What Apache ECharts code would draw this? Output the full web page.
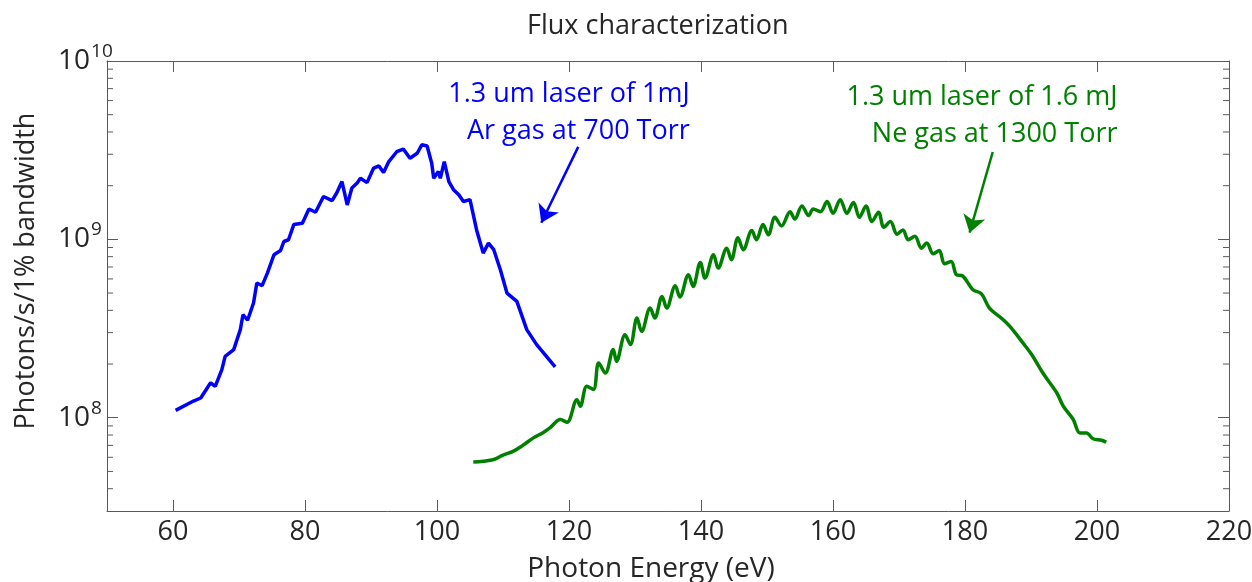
<!DOCTYPE html>
<html><head><meta charset="utf-8">
<script src="https://cdn.jsdelivr.net/npm/echarts@6/dist/echarts.min.js"></script>
<style>html,body{margin:0;padding:0;background:#fff}#c{width:1252px;height:582px}</style>
</head><body><div id="c"></div>
<script>
// ---- data ----
const xMin = 50, xMax = 220;
const yMin = 3e7, yMax = 1e10;
const yMinorTicks = [4e7,5e7,6e7,7e7,8e7,9e7,2e8,3e8,4e8,5e8,6e8,7e8,8e8,9e8,2e9,3e9,4e9,5e9,6e9,7e9,8e9,9e9];

const blueX = [60.4,63.1,64.2,65.7,66.4,67.4,67.9,69.2,70.2,70.6,71.3,72.2,72.7,73.5,74.3,75.3,76.3,76.8,77.5,78.3,79.6,80.6,81.6,82.8,84.1,84.8,85.6,86.4,87.1,87.9,88.4,89.4,90.4,91.2,91.9,92.7,93.9,94.9,95.9,97.0,97.7,98.5,99.2,99.5,100.2,100.5,101.1,101.8,102.5,103.3,104.0,105.0,106.0,107.0,107.8,108.6,109.6,110.6,112.1,113.6,115.1,117.9];
const blueY = [1.10e8,1.24e8,1.29e8,1.57e8,1.50e8,1.86e8,2.21e8,2.41e8,3.12e8,3.78e8,3.52e8,4.40e8,5.69e8,5.50e8,6.47e8,8.20e8,8.67e8,9.73e8,9.95e8,1.21e9,1.23e9,1.48e9,1.42e9,1.74e9,1.65e9,1.82e9,2.11e9,1.56e9,1.94e9,2.07e9,2.20e9,2.08e9,2.51e9,2.58e9,2.37e9,2.73e9,3.10e9,3.21e9,2.85e9,3.04e9,3.39e9,3.34e9,2.67e9,2.20e9,2.40e9,2.20e9,2.73e9,2.11e9,1.90e9,1.78e9,1.63e9,1.67e9,1.13e9,8.38e8,9.53e8,8.75e8,6.76e8,5.00e8,4.49e8,3.12e8,2.57e8,1.93e8];

const greenX = [105.5,107.0,108.6,110.0,111.6,113.0,114.6,116.0,117.1,118.7,119.7,121.2,121.7,122.7,123.7,124.5,125.5,126.7,127.2,128.5,129.3,130.3,131.0,132.3,133.0,134.1,134.8,136.1,136.8,138.1,138.8,139.9,140.6,141.9,142.6,143.9,144.6,145.6,146.4,147.7,148.4,149.4,150.2,151.2,152.2,153.5,154.2,155.3,156.3,157.0,158.1,159.1,160.0,161.1,162.1,163.1,164.0,165.0,165.9,166.9,167.7,168.7,169.7,170.6,171.4,172.4,173.4,174.2,175.2,176.1,176.9,177.9,178.7,179.6,181.2,182.5,183.7,185.5,186.8,188.8,190.1,191.8,193.9,194.9,196.4,197.4,198.4,199.4,200.7,201.4];
const greenY = [5.64e7,5.70e7,5.83e7,6.17e7,6.50e7,7.00e7,7.71e7,8.22e7,8.77e7,9.77e7,9.44e7,1.26e8,1.16e8,1.50e8,1.44e8,2.03e8,1.78e8,2.41e8,2.07e8,2.92e8,2.57e8,3.62e8,3.05e8,4.12e8,3.62e8,4.79e8,4.12e8,5.50e8,4.75e8,6.34e8,5.45e8,7.43e8,6.07e8,8.20e8,6.90e8,8.93e8,7.69e8,1.02e9,8.75e8,1.12e9,9.95e8,1.21e9,1.06e9,1.33e9,1.19e9,1.43e9,1.30e9,1.54e9,1.36e9,1.48e9,1.43e9,1.63e9,1.40e9,1.67e9,1.40e9,1.61e9,1.33e9,1.54e9,1.26e9,1.42e9,1.17e9,1.26e9,1.07e9,1.13e9,9.95e8,1.04e9,8.93e8,9.53e8,8.30e8,8.67e8,7.29e8,7.52e8,6.34e8,6.25e8,5.22e8,4.95e8,4.12e8,3.62e8,3.25e8,2.62e8,2.26e8,1.78e8,1.38e8,1.16e8,9.77e7,8.22e7,8.22e7,7.62e7,7.48e7,7.29e7];

const blueArrowFrom = [121.4, 3.3e9], blueArrowTo = [115.8, 1.24e9];
const greenArrowFrom = [184.2, 3.09e9], greenArrowTo = [180.7, 1.09e9];
const blueNote = ['1.3 um laser of 1mJ', 'Ar gas at 700 Torr'];
const greenNote = ['1.3 um laser of 1.6 mJ', 'Ne gas at 1300 Torr'];
const blueNoteAt = [138.3, 5.12e9];
const greenNoteAt = [203.1, 4.92e9];

const titleText = 'Flux characterization';
const xName = 'Photon Energy (eV)';
const yName = 'Photons/s/1% bandwidth';

// ---- styling ----
const FONT = 'Open Sans';
const AX = '#5a5a5a';
const TXT = '#262626';
const BLUE = '#0000ff', GREEN = '#008000';

const zip = (a, b) => a.map((v, i) => [v, b[i]]);

const chart = echarts.init(document.getElementById('c'), null, {renderer: 'canvas'});

const xBase = {
  type: 'value', min: xMin, max: xMax, minInterval: 20, maxInterval: 20,
  axisLine: {show: true, lineStyle: {color: AX, width: 1}},
  axisTick: {show: true, inside: true, length: 11, lineStyle: {color: AX}},
  splitLine: {show: false}
};
const yBase = {
  type: 'log', logBase: 10, min: yMin, max: yMax,
  axisLine: {show: true, lineStyle: {color: AX, width: 1}},
  axisTick: {show: true, inside: true, length: 11, lineStyle: {color: AX}},
  splitLine: {show: false}, minorTick: {show: false}
};

chart.setOption({
  animation: false,
  backgroundColor: '#fff',
  title: {
    text: titleText, left: 527, top: 13, padding: 0,
    textStyle: {fontFamily: FONT, fontSize: 27, fontWeight: 'normal', color: TXT}
  },
  grid: {left: 107, right: 23, top: 61, bottom: 71, containLabel: false, outerBoundsMode: 'none'},
  xAxis: [
    Object.assign({}, xBase, {
      position: 'bottom',
      name: xName, nameLocation: 'middle', nameGap: 44,
      nameTextStyle: {fontFamily: FONT, fontSize: 28, color: TXT, padding: [0, 34, 0, 0]},
      axisLabel: {
        margin: 8, fontFamily: FONT, fontSize: 27, color: TXT,
        formatter: v => (Math.round(v) % 20 === 0 ? String(Math.round(v)) : '')
      }
    }),
    Object.assign({}, xBase, {position: 'top', axisLabel: {show: false}})
  ],
  yAxis: [
    Object.assign({}, yBase, {
      position: 'left',
      axisLabel: {
        margin: 49, align: 'left', color: TXT,
        formatter: v => {
          const e = Math.log10(v), r = Math.round(e);
          if (Math.abs(e - r) > 1e-6) return '';
          return '{b|10}{s|' + r + '}';
        },
        rich: {
          b: {fontFamily: FONT, fontSize: 28, color: TXT, lineHeight: 38},
          s: {fontFamily: FONT, fontSize: 19, color: TXT, verticalAlign: 'top', lineHeight: 19, padding: [0, 0, 0, 1]}
        }
      }
    }),
    Object.assign({}, yBase, {position: 'right', axisLabel: {show: false}})
  ],
  series: [
    {
      type: 'line', name: 'Ar', xAxisIndex: 0, yAxisIndex: 0,
      data: zip(blueX, blueY), showSymbol: false, symbol: 'none',
      lineStyle: {color: BLUE, width: 3.5}, itemStyle: {color: BLUE}, z: 5,
      markLine: {
        silent: true, symbol: ['none', 'arrow'], symbolSize: 17,
        label: {show: false},
        lineStyle: {color: BLUE, width: 2.5, type: 'solid'},
        data: [[{coord: blueArrowFrom}, {coord: blueArrowTo}]]
      }
    },
    {
      type: 'line', name: 'Ne', xAxisIndex: 0, yAxisIndex: 0,
      data: zip(greenX, greenY), showSymbol: false, symbol: 'none', smooth: 0.35,
      lineStyle: {color: GREEN, width: 3.5}, itemStyle: {color: GREEN}, z: 5,
      markLine: {
        silent: true, symbol: ['none', 'arrow'], symbolSize: 17,
        label: {show: false},
        lineStyle: {color: GREEN, width: 2.5, type: 'solid'},
        data: [[{coord: greenArrowFrom}, {coord: greenArrowTo}]]
      }
    },
    {
      type: 'custom', name: 'minorTicks', xAxisIndex: 0, yAxisIndex: 0, silent: true,
      data: yMinorTicks.map(v => [xMin, v]),
      renderItem: (params, api) => {
        const v = api.value(1);
        const l = api.coord([xMin, v]);
        const r = api.coord([xMax, v]);
        return {type: 'group', children: [
          {type: 'line', shape: {x1: l[0], y1: l[1], x2: l[0] + 6, y2: l[1]}, style: {stroke: AX, lineWidth: 1}},
          {type: 'line', shape: {x1: r[0] - 6, y1: r[1], x2: r[0], y2: r[1]}, style: {stroke: AX, lineWidth: 1}}
        ]};
      },
      z: 3
    }
  ]
});

function noteGraphic(lines, at, color) {
  const p = chart.convertToPixel({xAxisIndex: 0, yAxisIndex: 0}, at);
  return {
    type: 'text', x: p[0], y: p[1], silent: true,
    style: {text: lines.join('\n'), fill: color, fontFamily: FONT, fontSize: 27,
            lineHeight: 37, align: 'right', verticalAlign: 'middle'}
  };
}

chart.setOption({
  graphic: [
    noteGraphic(blueNote, blueNoteAt, BLUE),
    noteGraphic(greenNote, greenNoteAt, GREEN),
    {
      type: 'text', x: 26, y: 271, rotation: Math.PI / 2, silent: true,
      style: {text: yName, fill: TXT, fontFamily: FONT, fontSize: 27, align: 'center', verticalAlign: 'middle'}
    }
  ]
});
</script></body></html>
